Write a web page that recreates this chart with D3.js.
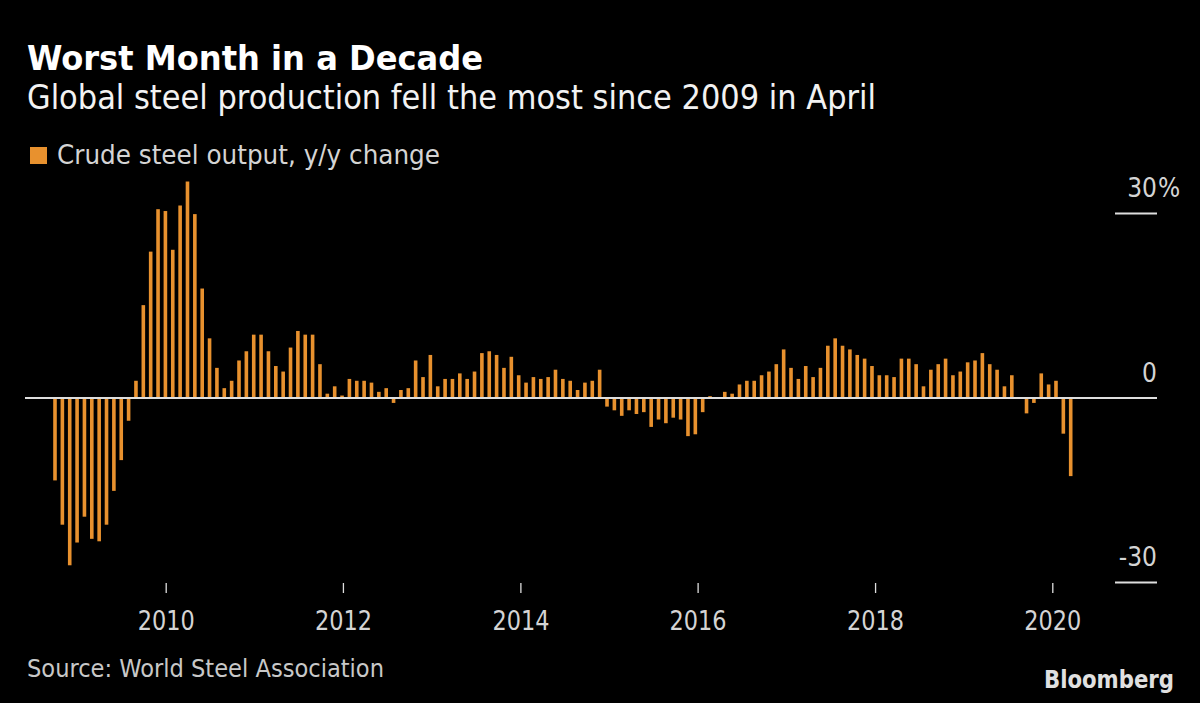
<!DOCTYPE html>
<html>
<head>
<meta charset="utf-8">
<script src="https://cdn.jsdelivr.net/npm/d3@7"></script>
<style>
  html, body { margin: 0; padding: 0; background: #000; }
  svg { display: block; }
  text { font-family: "Liberation Sans Narrow", "DejaVu Sans Condensed", "Liberation Sans", "Noto Sans", sans-serif; }
</style>
</head>
<body>
<svg id="chart" width="1200" height="703"></svg>
<script>
// ---- Data ----
const title = "Worst Month in a Decade";
const subtitle = "Global steel production fell the most since 2009 in April";
const legendLabel = "Crude steel output, y/y change";
const sourceText = "Source: World Steel Association";
const brand = "Bloomberg";

// Months: Oct 2008 .. Apr 2020
const firstMonth = new Date(2008, 9, 1);
const lastMonth = new Date(2020, 3, 1);
const months = d3.timeMonth.range(firstMonth, d3.timeMonth.offset(lastMonth, 1));

// y/y change, %
const values = [
  -13.4, -20.6, -27.2,                                                  // 2008 Oct-Dec
  -23.5, -19.3, -22.9, -23.3, -20.6, -15.1, -10.1, -3.7, 2.8, 15.1, 23.8, 30.7, // 2009
  30.4, 24.1, 31.3, 35.2, 29.9, 17.8, 9.7, 4.9, 1.6, 2.8, 6.1, 7.6,     // 2010
  10.3, 10.3, 7.6, 5.2, 4.3, 8.2, 10.9, 10.3, 10.3, 5.5, 0.7, 1.9,      // 2011
  0.4, 3.1, 2.8, 2.8, 2.5, 1.0, 1.6, -0.8, 1.3, 1.6, 6.1, 3.4,          // 2012
  7.0, 1.9, 3.1, 3.1, 4.0, 3.1, 4.3, 7.3, 7.6, 7.0, 4.9, 6.7,           // 2013
  3.7, 2.5, 3.4, 3.1, 3.4, 4.6, 3.1, 2.8, 1.3, 2.5, 2.8, 4.6,           // 2014
  -1.4, -2.0, -2.9, -2.0, -2.6, -2.3, -4.7, -3.5, -4.1, -3.2, -3.5, -6.2, // 2015
  -5.9, -2.3, 0.3, 0.0, 1.0, 0.7, 2.2, 2.8, 2.8, 3.7, 4.3, 5.5,         // 2016
  7.9, 4.9, 3.1, 5.2, 3.4, 4.9, 8.5, 9.7, 8.5, 7.9, 7.0, 6.4,           // 2017
  5.2, 3.7, 3.7, 3.4, 6.4, 6.4, 5.5, 1.9, 4.6, 5.5, 6.4, 3.7,           // 2018
  4.3, 5.8, 6.1, 7.3, 5.5, 4.6, 1.9, 3.7, -0.1, -2.5, -0.8, 4.0,        // 2019
  2.2, 2.8, -5.8, -12.7                                                 // 2020 Jan-Apr
];

const yearTicks = [2010, 2012, 2014, 2016, 2018, 2020];
const yTicks = [30, 0, -30];

// ---- Chart ----
const svg = d3.select("#chart");
const W = 1200, H = 703;
svg.append("rect").attr("width", W).attr("height", H).attr("fill", "#000");

const barColor = "#e8912e";
const textColor = "#d4d4d4";

function fit(sel, w) {
  sel.attr("textLength", w).attr("lengthAdjust", "spacingAndGlyphs");
  return sel;
}

// Titles
fit(svg.append("text").attr("x", 27).attr("y", 69.5)
  .attr("font-size", 34).attr("font-weight", "bold").attr("fill", "#ffffff")
  .text(title), 456);
fit(svg.append("text").attr("x", 27).attr("y", 108.5)
  .attr("font-size", 33).attr("fill", "#f2f2f2")
  .text(subtitle), 849);

// Legend
svg.append("rect").attr("x", 30).attr("y", 147).attr("width", 17).attr("height", 17).attr("fill", barColor);
fit(svg.append("text").attr("x", 57).attr("y", 164.3)
  .attr("font-size", 26).attr("fill", textColor)
  .text(legendLabel), 383);

// Scales
const x = d3.scalePoint().domain(months.map(d => +d)).range([55, 1070.7]);
const xTime = d3.scaleTime().domain([new Date(2010, 0, 1), new Date(2020, 0, 1)]).range([165.7, 1052.3]);
const y = d3.scaleLinear().domain([-30, 30]).range([582.5, 213.5]);
const barW = 3.6;

// Bars
svg.append("g").selectAll("rect").data(values).join("rect")
  .attr("x", (d, i) => x(+months[i]) - barW / 2)
  .attr("width", barW)
  .attr("y", d => y(Math.max(0, d)))
  .attr("height", d => Math.abs(y(d) - y(0)))
  .attr("fill", barColor);

// Zero line
svg.append("line")
  .attr("x1", 25).attr("x2", 1157)
  .attr("y1", y(0)).attr("y2", y(0))
  .attr("stroke", "#dedede").attr("stroke-width", 1.8);

// Right axis tick lines (30 / -30) and labels
const yAxisG = svg.append("g");
yTicks.filter(t => t !== 0).forEach(t => {
  yAxisG.append("line")
    .attr("x1", 1115).attr("x2", 1157)
    .attr("y1", y(t)).attr("y2", y(t))
    .attr("stroke", "#dedede").attr("stroke-width", 1.8);
});
yTicks.forEach(t => {
  const label = yAxisG.append("text")
    .attr("x", 1157).attr("y", y(t) - 16.5)
    .attr("text-anchor", "end")
    .attr("font-size", 26).attr("fill", textColor)
    .text(t === 0 ? "0" : String(t));
  if (t === 30) {
    yAxisG.append("text")
      .attr("x", 1158).attr("y", y(t) - 16.5)
      .attr("font-size", 26).attr("fill", textColor)
      .text("%");
  }
});

// Bottom axis
const xAxis = d3.axisBottom(xTime)
  .tickValues(yearTicks.map(yr => new Date(yr, 0, 1)))
  .tickFormat(d3.timeFormat("%Y"))
  .tickSize(10)
  .tickPadding(27);
const xg = svg.append("g").attr("transform", "translate(0,583)").call(xAxis);
xg.select(".domain").remove();
xg.selectAll(".tick line").attr("stroke", "#dedede").attr("stroke-width", 1.3);
xg.selectAll(".tick text")
  .attr("fill", textColor)
  .attr("font-size", 26)
  .attr("font-family", null)
  .attr("dy", null)
  .attr("y", 47)
  .attr("textLength", 57)
  .attr("lengthAdjust", "spacingAndGlyphs");
xg.attr("font-family", null).attr("font-size", null);

// Source + brand
fit(svg.append("text").attr("x", 27).attr("y", 676.7)
  .attr("font-size", 24).attr("fill", "#c8c8c8")
  .text(sourceText), 357);
fit(svg.append("text").attr("x", 1174).attr("y", 688.3)
  .attr("text-anchor", "end")
  .attr("font-size", 24).attr("font-weight", "bold").attr("fill", "#e0e0e0")
  .attr("font-family", "'Liberation Sans', Arial, sans-serif")
  .text(brand), 130);
</script>
</body>
</html>
